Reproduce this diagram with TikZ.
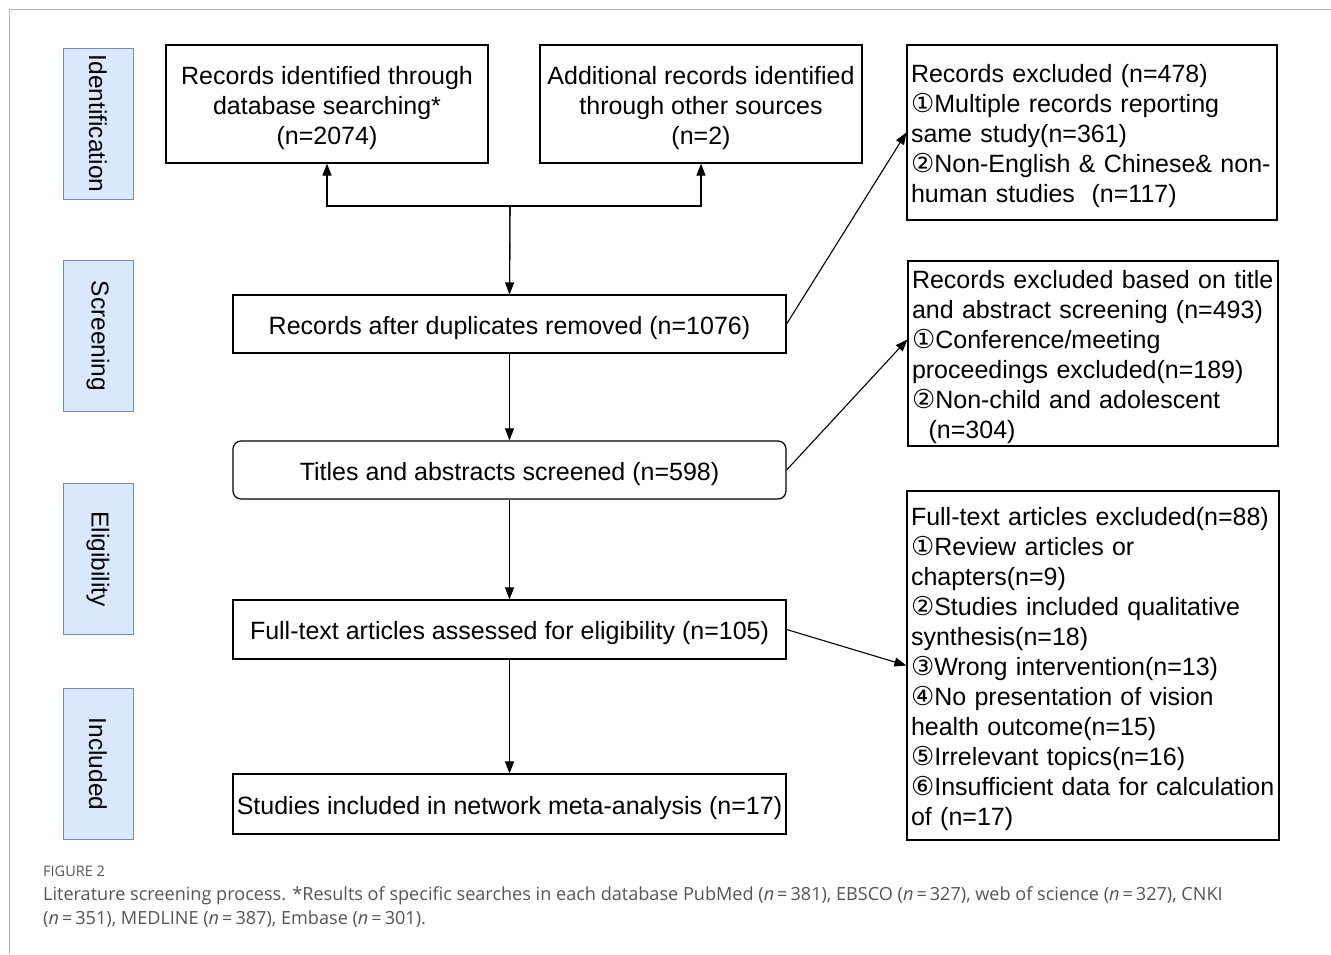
\documentclass[tikz,border=0pt]{standalone}
\usepackage{fontspec}
\setmainfont{Liberation Sans}
\newfontfamily\dv{DejaVu Sans}
\newfontfamily\capfont{Open Sans}
\usetikzlibrary{arrows.meta,calc}
\newcommand{\cn}[1]{{\dv\fontsize{26}{30}\selectfont #1}}
\newcommand{\tstrut}{\rule{0pt}{26pt}}
\definecolor{stageFill}{HTML}{DAE8FC}
\definecolor{stageDraw}{HTML}{6C8EBF}
\definecolor{capgray}{HTML}{555555}
\tikzset{
  box/.style={draw=black, line width=1.2pt, fill=white, align=center, inner sep=0pt,
    font=\fontsize{25}{30}\selectfont},
  rbox/.style={draw=black, line width=1.2pt, fill=white, align=left, inner sep=0pt,
    font=\fontsize{25}{30}\selectfont},
  stage/.style={draw=stageDraw, fill=stageFill, line width=1pt, minimum width=70pt, minimum height=151pt,
    inner sep=0pt},
  stagetext/.style={rotate=-90, font=\fontsize{24.5}{28}\selectfont},
  arr/.style={line width=1.1pt, -{Triangle[length=12pt,width=9pt]}},
  ln/.style={line width=1.1pt}
}
\begin{document}
\begin{tikzpicture}[x=1pt,y=-1pt]
\useasboundingbox (0,0) rectangle (1331,954);
% frame
\draw[line width=1pt, gray!60] (9,954) -- (9,9) -- (1331,9);

% stage labels
\node[stage] (s1) at (98,123.5) {};
\node[stagetext] (t1) at (s1.center) {Identification};
\node[stage] (s2) at (98,336) {};
\node[stagetext] (t2) at (s2.center) {Screening};
\node[stage] (s3) at (98,559) {};
\node[stagetext] (t3) at (s3.center) {Eligibility};
\node[stage] (s4) at (98,764) {};
\node[stagetext] (t4) at (s4.center) {Included};

% main boxes
\node[box, minimum width=322pt, minimum height=118pt] (A) at (327,104)
  {\tstrut Records identified through\\database searching*\\(n=2074)};
\node[box, minimum width=322pt, minimum height=118pt] (B) at (701,104)
  {\tstrut Additional records identified\\through other sources\\(n=2)};
\node[box, minimum width=553pt, minimum height=58pt] (C) at (509.5,324)
  {\tstrut Records after duplicates removed (n=1076)};
\node[box, rounded corners=8pt, minimum width=553pt, minimum height=58pt] (D) at (509.5,470)
  {\tstrut Titles and abstracts screened (n=598)};
\node[box, minimum width=553pt, minimum height=59pt] (E) at (509.5,629.5)
  {\tstrut Full-text articles assessed for eligibility (n=105)};
\node[box, minimum width=553pt, minimum height=60pt] (F) at (509.5,804)
  {\tstrut Studies included in network meta-analysis (n=17)};

% right boxes
\node[rbox, minimum width=370pt, minimum height=175pt, text width=362pt] (R1) at (1092,132.5)
  {\tstrut Records excluded (n=478)\\
   \cn{①}Multiple records reporting\\
   same study(n=361)\\
   \cn{②}Non-English \& Chinese\& non-\\
   human studies\ \ (n=117)};
\node[rbox, minimum width=370pt, minimum height=185pt, text width=362pt] (R2) at (1093,353.5)
  {\tstrut Records excluded based on title\\
   and abstract screening (n=493)\\
   \cn{①}Conference/meeting\\
   proceedings excluded(n=189)\\
   \cn{②}Non-child and adolescent\\
   \ \ (n=304)};
\node[rbox, minimum width=372pt, minimum height=349pt, text width=364pt] (R3) at (1093,665.5)
  {\tstrut Full-text articles excluded(n=88)\\
   \cn{①}Review articles or\\
   chapters(n=9)\\
   \cn{②}Studies included qualitative\\
   synthesis(n=18)\\
   \cn{③}Wrong intervention(n=13)\\
   \cn{④}No presentation of vision\\
   health outcome(n=15)\\
   \cn{⑤}Irrelevant topics(n=16)\\
   \cn{⑥}Insufficient data for calculation\\
   of (n=17)};

% connectors
\coordinate (j) at (510,206);
\draw[ln] (C.north) -- (j);
\draw[arr] (j) -| (A.south);
\draw[arr] (j) -| (B.south);
\draw[arr] (j) -- (C.north);
\draw[arr] (C.south) -- (D.north);
\draw[arr] (D.south) -- (E.north);
\draw[arr] (E.south) -- (F.north);
\draw[arr] (C.east) -- (R1.west);
\draw[arr] (D.east) -- ($(R2.west)+(0,-14)$);
\draw[arr] (E.east) -- (R3.west);

% caption
\node[anchor=base west, inner sep=0pt, text=capgray, font=\capfont\fontsize{14.5}{16}\selectfont] (fig) at (43,876) {FIGURE 2};
\node[anchor=base west, inner sep=0pt, text=capgray, font=\capfont\fontsize{18.1}{24}\selectfont] (cap1) at (43,900)
  {Literature screening process. *Results of specific searches in each database PubMed (\textit{n}\,=\,381), EBSCO (\textit{n}\,=\,327), web of science (\textit{n}\,=\,327), CNKI};
\node[anchor=base west, inner sep=0pt, text=capgray, font=\capfont\fontsize{18.1}{24}\selectfont] (cap2) at (43,924)
  {(\textit{n}\,=\,351), MEDLINE (\textit{n}\,=\,387), Embase (\textit{n}\,=\,301).};
\end{tikzpicture}
\end{document}
